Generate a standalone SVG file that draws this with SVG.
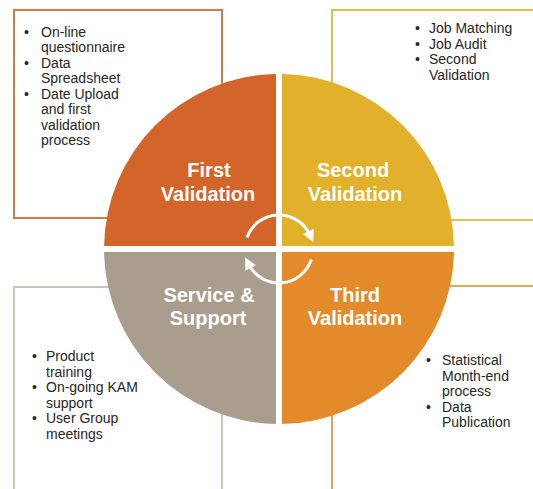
<svg xmlns="http://www.w3.org/2000/svg" width="533" height="489" viewBox="0 0 533 489">
  <style>
    .box { fill: #ffffff; stroke-width: 2; }
    .list { font-family: "Liberation Sans", Arial, sans-serif; font-size: 14px; fill: #262626; }
    .title { font-family: "Liberation Sans", Arial, sans-serif; font-size: 20px; font-weight: bold; fill: #ffffff; text-anchor: middle; }
    .cycle { fill: none; stroke: #ffffff; stroke-width: 3; marker-end: url(#head); }
  </style>
  <defs>
    <marker id="head" viewBox="0 0 10 10" refX="3" refY="5" markerWidth="4" markerHeight="4" orient="auto" markerUnits="strokeWidth">
      <path d="M0,0 L10,5 L0,10 Z" fill="#ffffff"/>
    </marker>
  </defs>
  <rect width="533" height="489" fill="#ffffff"/>

  <!-- outlined detail boxes behind the wheel -->
  <g id="box-first">
    <rect class="box" x="14" y="10" width="208" height="208" stroke="#D07A44"/>
    <text class="list">
      <tspan x="24" y="36.5">•</tspan><tspan x="41" y="36.5">On-line</tspan>
      <tspan x="41" y="52">questionnaire</tspan>
      <tspan x="24" y="67.5">•</tspan><tspan x="41" y="67.5">Data</tspan>
      <tspan x="41" y="83">Spreadsheet</tspan>
      <tspan x="24" y="98.5">•</tspan><tspan x="41" y="98.5">Date Upload</tspan>
      <tspan x="41" y="114">and first</tspan>
      <tspan x="41" y="129.5">validation</tspan>
      <tspan x="41" y="145">process</tspan>
    </text>
  </g>
  <g id="box-second">
    <rect class="box" x="332" y="10" width="220" height="210" stroke="#E4BC55"/>
    <text class="list">
      <tspan x="415" y="33">•</tspan><tspan x="429" y="33">Job Matching</tspan>
      <tspan x="415" y="48.5">•</tspan><tspan x="429" y="48.5">Job Audit</tspan>
      <tspan x="415" y="64">•</tspan><tspan x="429" y="64">Second</tspan>
      <tspan x="429" y="79.5">Validation</tspan>
    </text>
  </g>
  <g id="box-service">
    <rect class="box" x="14" y="287" width="208" height="220" stroke="#CBC2B6"/>
    <text class="list">
      <tspan x="32" y="361">•</tspan><tspan x="46" y="361">Product</tspan>
      <tspan x="46" y="376.5">training</tspan>
      <tspan x="32" y="392">•</tspan><tspan x="46" y="392">On-going KAM</tspan>
      <tspan x="46" y="407.5">support</tspan>
      <tspan x="32" y="423">•</tspan><tspan x="46" y="423">User Group</tspan>
      <tspan x="46" y="438.5">meetings</tspan>
    </text>
  </g>
  <g id="box-third">
    <rect class="box" x="332" y="286" width="220" height="220" stroke="#E6A457"/>
    <text class="list">
      <tspan x="426" y="365">•</tspan><tspan x="442" y="365">Statistical</tspan>
      <tspan x="442" y="380.5">Month-end</tspan>
      <tspan x="442" y="396">process</tspan>
      <tspan x="426" y="411.5">•</tspan><tspan x="442" y="411.5">Data</tspan>
      <tspan x="442" y="427">Publication</tspan>
    </text>
  </g>

  <!-- wheel quadrants -->
  <g id="first-validation">
    <path d="M276,246 L276,74.03 A175,175 0 0 0 104.03,246 Z" fill="#D3642A"/>
    <text class="title" x="209" y="177">First</text>
    <text class="title" x="208" y="201">Validation</text>
  </g>
  <g id="second-validation">
    <path d="M282,246 L453.97,246 A175,175 0 0 0 282,74.03 Z" fill="#E2B02B"/>
    <text class="title" x="353" y="177">Second</text>
    <text class="title" x="355" y="201">Validation</text>
  </g>
  <g id="third-validation">
    <path d="M282,252 L282,423.97 A175,175 0 0 0 453.97,252 Z" fill="#E38B2B"/>
    <text class="title" x="355" y="302">Third</text>
    <text class="title" x="355" y="325">Validation</text>
  </g>
  <g id="service-support">
    <path d="M276,252 L104.03,252 A175,175 0 0 0 276,423.97 Z" fill="#A99D8E"/>
    <text class="title" x="209" y="302">Service &amp;</text>
    <text class="title" x="208" y="325">Support</text>
  </g>

  <!-- cycle arrows -->
  <g id="connectors">
    <path class="cycle" d="M247,237.4 A34,34 0 0 1 309.8,234.6"/>
    <path class="cycle" d="M311.3,259.5 A34,34 0 0 1 249,265"/>
  </g>
</svg>
